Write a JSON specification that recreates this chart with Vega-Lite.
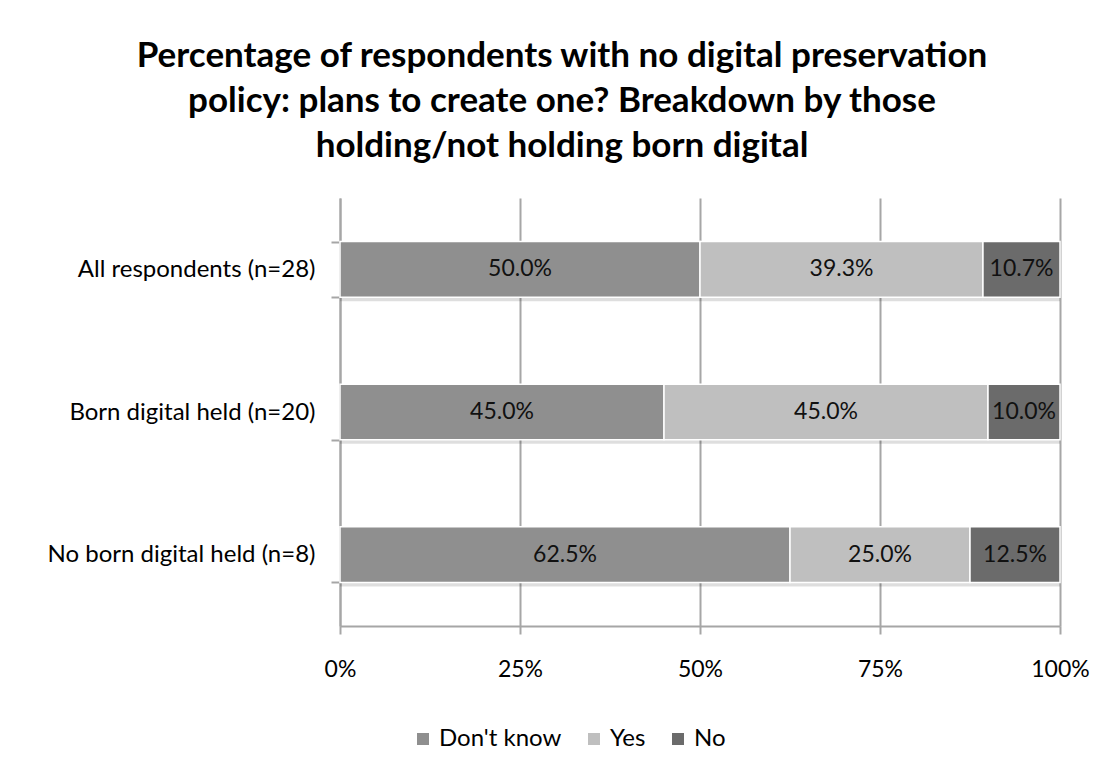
{
  "$schema": "https://vega.github.io/schema/vega-lite/v6.json",
  "width": 720,
  "height": 428,
  "autosize": {"type": "none"},
  "padding": {"left": 340, "top": 198, "right": 51, "bottom": 143},
  "background": "white",
  "title": {
    "text": [
      "Percentage of respondents with no digital preservation",
      "policy: plans to create one? Breakdown by those",
      "holding/not holding born digital"
    ],
    "anchor": "middle",
    "frame": "group",
    "dx": -138,
    "font": "Lato",
    "fontSize": 35,
    "fontWeight": "bold",
    "color": "#000000",
    "lineHeight": 45,
    "offset": 22
  },
  "data": {
    "values": [
      {"group": "All respondents (n=28)", "response": "Don't know", "share": 0.5},
      {"group": "All respondents (n=28)", "response": "Yes", "share": 0.393},
      {"group": "All respondents (n=28)", "response": "No", "share": 0.107},
      {"group": "Born digital held (n=20)", "response": "Don't know", "share": 0.45},
      {"group": "Born digital held (n=20)", "response": "Yes", "share": 0.45},
      {"group": "Born digital held (n=20)", "response": "No", "share": 0.1},
      {"group": "No born digital held (n=8)", "response": "Don't know", "share": 0.625},
      {"group": "No born digital held (n=8)", "response": "Yes", "share": 0.25},
      {"group": "No born digital held (n=8)", "response": "No", "share": 0.125}
    ]
  },
  "transform": [
    {"calculate": "indexof([\"Don't know\", \"Yes\", \"No\"], datum.response)", "as": "rank"},
    {"stack": "share", "groupby": ["group"], "sort": [{"field": "rank"}], "as": ["start", "end"]},
    {"calculate": "(datum.start + datum.end) / 2", "as": "mid"}
  ],
  "encoding": {
    "y": {
      "field": "group",
      "type": "nominal",
      "sort": null,
      "scale": {"paddingInner": 0.61, "paddingOuter": 0.305},
      "axis": {
        "title": null,
        "domainColor": "#a6a6a6",
        "domainWidth": 2,
        "tickColor": "#a6a6a6",
        "tickWidth": 2,
        "tickSize": 9,
        "tickBand": "extent",
        "labelFont": "Lato",
        "labelFontSize": 24,
        "labelColor": "#000000",
        "labelPadding": 16,
        "labelLimit": 0,
        "grid": false
      }
    }
  },
  "layer": [
    {
      "mark": {"type": "bar", "color": "#000000", "opacity": 0.13, "yOffset": 4, "y2Offset": 4},
      "encoding": {
        "x": {"field": "start", "type": "quantitative", "scale": {"domain": [0, 1]}},
        "x2": {"field": "end"}
      }
    },
    {
      "mark": {"type": "bar", "stroke": "#ffffff", "strokeWidth": 1.5},
      "encoding": {
        "x": {
          "field": "start",
          "type": "quantitative",
          "scale": {"domain": [0, 1]},
          "axis": {
            "title": null,
            "values": [0, 0.25, 0.5, 0.75, 1],
            "format": ".0%",
            "grid": true,
            "gridColor": "#a6a6a6",
            "gridWidth": 2,
            "domainColor": "#a6a6a6",
            "domainWidth": 2,
            "tickColor": "#a6a6a6",
            "tickWidth": 2,
            "tickSize": 8,
            "labelFont": "Lato",
            "labelFontSize": 23,
            "labelColor": "#000000",
            "labelPadding": 24,
            "labelFlush": false,
            "labelBound": false,
            "labelOverlap": false
          }
        },
        "x2": {"field": "end"},
        "color": {
          "field": "response",
          "type": "nominal",
          "sort": ["Don't know", "Yes", "No"],
          "scale": {"domain": ["Don't know", "Yes", "No"], "range": ["#8f8f8f", "#bfbfbf", "#6b6b6b"]},
          "legend": {
            "title": null,
            "orient": "none",
            "legendX": 71,
            "legendY": 529,
            "direction": "horizontal",
            "symbolType": "square",
            "symbolSize": 144,
            "symbolStrokeWidth": 0,
            "labelFont": "Lato",
            "labelFontSize": 24,
            "labelColor": "#000000",
            "labelOffset": 4,
            "columnPadding": 20,
            "padding": 0
          }
        }
      }
    },
    {
      "mark": {"type": "text", "font": "Lato", "fontSize": 23, "color": "#111111", "baseline": "middle", "align": "center"},
      "encoding": {
        "x": {"field": "mid", "type": "quantitative"},
        "text": {"field": "share", "type": "quantitative", "format": ".1%"}
      }
    }
  ],
  "config": {
    "view": {"stroke": null}
  }
}
